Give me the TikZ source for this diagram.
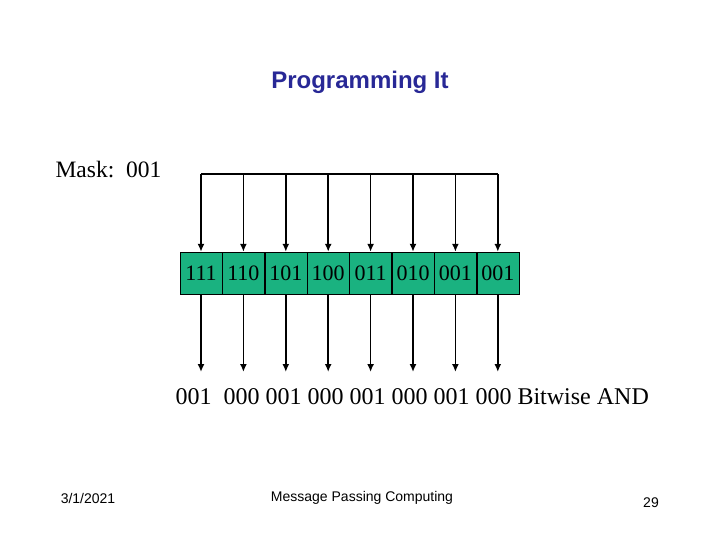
\documentclass[tikz,border=0pt]{standalone}
\usepackage{fontspec}
\setmainfont{Liberation Serif}
\setsansfont{Liberation Sans}
\usetikzlibrary{positioning,arrows.meta}
\definecolor{cellgreen}{RGB}{26,178,128}
\definecolor{titleblue}{RGB}{40,40,150}
\tikzset{cell/.style={draw,fill=cellgreen,minimum width=42pt,minimum height=42pt,inner sep=0pt,font=\fontsize{22}{22}\selectfont},
  feed/.style={line width=1.6pt,-{Latex[length=8pt,width=7pt]}}}

\begin{document}
\begin{tikzpicture}[x=1pt,y=-1pt]
  \useasboundingbox (0,0) rectangle (720,540);
  \node[font=\sffamily\bfseries\fontsize{24}{24}\selectfont,text=titleblue] (title) at (360,82) {Programming It};
  \node[anchor=west,font=\fontsize{23.5}{23.5}\selectfont] (mask) at (52,170) {Mask:\ \ 001};
  \node[cell] (b1) at (201,273) {111};
  \node[cell,right=0pt of b1] (b2) {110};
  \node[cell,right=0pt of b2] (b3) {101};
  \node[cell,right=0pt of b3] (b4) {100};
  \node[cell,right=0pt of b4] (b5) {011};
  \node[cell,right=0pt of b5] (b6) {010};
  \node[cell,right=0pt of b6] (b7) {001};
  \node[cell,right=0pt of b7] (b8) {001};
  \foreach \i in {1,...,8}{
    \coordinate (t\i) at (b\i.north |- 0,174);
    \coordinate (d\i) at (b\i.south |- 0,372);
    \draw[feed] (t\i) -- (b\i.north);
    \draw[feed] (b\i.south) -- (d\i);
  }
  \draw[line width=1.6pt] (t1) -- (t8);
  \node[anchor=west,font=\fontsize{24}{24}\selectfont] (result) at (172,397) {001\ \ 000 001 000 001 000 001 000 Bitwise AND};
  \node[font=\sffamily\fontsize{14}{14}\selectfont] (date) at (88,498) {3/1/2021};
  \node[font=\sffamily\fontsize{14}{14}\selectfont] (footer) at (362,498) {Message Passing Computing};
  \node[font=\sffamily\fontsize{14}{14}\selectfont] (page) at (651,503) {29};
\end{tikzpicture}
\end{document}
